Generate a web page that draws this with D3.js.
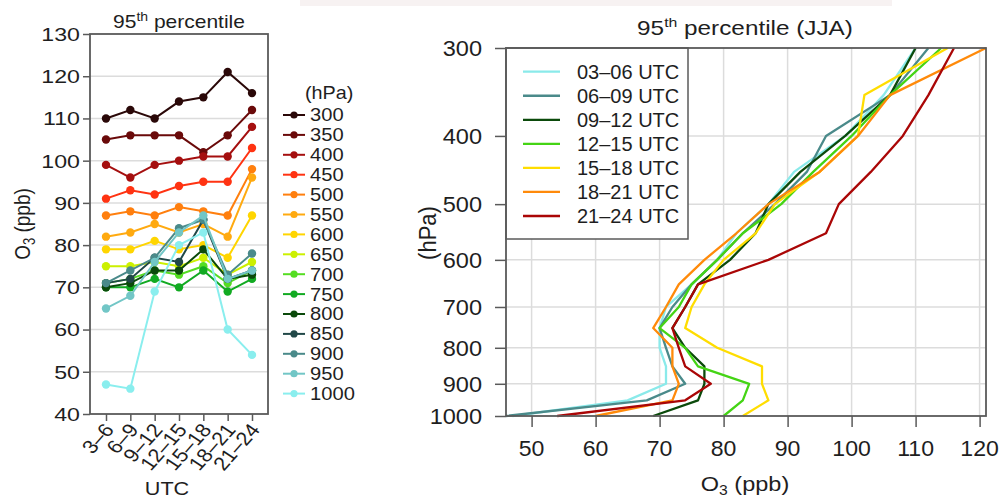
<!DOCTYPE html>
<html><head><meta charset="utf-8">
<script src="https://cdnjs.cloudflare.com/ajax/libs/d3/7.8.5/d3.min.js"></script>
<style>
body{margin:0;background:#fff;}
svg{display:block;}
text{font-family:"Liberation Sans",Arial,Helvetica,sans-serif;fill:#1e1e1e;}
</style>
</head><body>
<svg id="c" width="1003" height="498"></svg>
<script>
// ---------- data ----------
const utcLabels = ["3–6","6–9","9–12","12–15","15–18","18–21","21–24"];
const utcLegend = ["03–06 UTC","06–09 UTC","09–12 UTC","12–15 UTC","15–18 UTC","18–21 UTC","21–24 UTC"];
const levels = [300,350,400,450,500,550,600,650,700,750,800,850,900,950,1000];

const o3_300  = [110,112,110,114,115,121,116];
const o3_350  = [105,106,106,106,102,106,112];
const o3_400  = [99,96,99,100,101,101,108];
const o3_450  = [91,93,92,94,95,95,103];
const o3_500  = [87,88,87,89,88,87,98];
const o3_550  = [82,83,85,83,85,82,96];
const o3_600  = [79,79,81,79,80,77,87];
const o3_650  = [75,75,76,75,77,73,76];
const o3_700  = [71,72,74,73,75,71,74];
const o3_750  = [70,70,72,70,74,69,72];
const o3_800  = [70,71,74,74,79,72,73];
const o3_850  = [71,72,77,76,86,72,74];
const o3_900  = [71,74,77,84,86,73,78];
const o3_950  = [65,68,76,83,87,72,74];
const o3_1000 = [47,46,69,80,83,60,54];

const leftYTicks = [40,50,60,70,80,90,100,110,120,130];
const rightXTicks = [50,60,70,80,90,100,110,120];
const rightYTicks = [300,400,500,600,700,800,900,1000];

const levelColors = ["#2a0808","#6a0a0a","#a50f0f","#ff3312","#ff7f0e","#ffaa10","#ffd500","#ccf000",
                     "#55dd22","#12aa22","#0b4a0b","#214848","#4a8a8a","#72c6c6","#8aeeee"];
const utcColors = ["#8aeaea","#4a8a8a","#0b4a0b","#44d414","#ffdd00","#ff8a0a","#aa0606"];

const series = [o3_300,o3_350,o3_400,o3_450,o3_500,o3_550,o3_600,o3_650,o3_700,o3_750,o3_800,o3_850,o3_900,o3_950,o3_1000];

// ---------- helpers ----------
const svg = d3.select("#c");
const boxCol = "#5a5a5a", gridCol = "#dcdcdc";

function label(g, x, y, parts, o) {
  o = o || {};
  const t = g.append("text")
    .attr("transform", `translate(${x},${y}) scale(${o.sx||1},1) rotate(${o.rot||0})`)
    .attr("text-anchor", o.anchor || "start")
    .style("font-size", (o.size||18) + "px");
  if (o.dy) t.attr("dy", o.dy);
  if (typeof parts === "string") t.text(parts);
  else parts.forEach(p => {
    const s = t.append("tspan").text(p.t);
    if (p.size) s.style("font-size", p.size + "px");
    if (p.dy) s.attr("dy", p.dy);
  });
  if (o.width) {
    const w = t.node().getBBox().width;
    t.attr("transform", `translate(${x},${y}) scale(${o.width / w},1) rotate(${o.rot||0})`);
  }
  return t;
}

svg.append("rect").attr("x",300).attr("y",0).attr("width",592).attr("height",6).attr("fill","#f7f2f2");

// ================= LEFT PANEL =================
const L = svg.append("g");
const xL = d3.scalePoint().domain(utcLabels).range([106, 252]);
const yL = d3.scaleLinear().domain([40, 130]).range([414, 34]);
const sxL = 1.2;

L.selectAll("line.grid").data(leftYTicks.filter(d => d > 40 && d < 130)).join("line")
  .attr("x1", 90).attr("x2", 268).attr("y1", d => yL(d)).attr("y2", d => yL(d))
  .attr("stroke", gridCol).attr("stroke-width", 1.5);

const lineL = d3.line().x((d, i) => xL(utcLabels[i])).y(d => yL(d));
series.forEach((s, k) => {
  L.append("path").attr("d", lineL(s)).attr("fill", "none")
    .attr("stroke", levelColors[k]).attr("stroke-width", 2);
  L.selectAll(null).data(s).join("circle")
    .attr("cx", (d, i) => xL(utcLabels[i])).attr("cy", d => yL(d)).attr("r", 4.2)
    .attr("fill", levelColors[k]);
});

L.append("rect").attr("x", 90).attr("y", 34).attr("width", 178).attr("height", 380)
  .attr("fill", "none").attr("stroke", boxCol).attr("stroke-width", 1.8);

const axL = L.append("g").attr("transform", "translate(90,0)")
  .call(d3.axisLeft(yL).tickValues(leftYTicks).tickSize(7).tickFormat(""));
axL.select(".domain").remove();
axL.selectAll("line").attr("stroke", boxCol).attr("stroke-width", 1.5);
leftYTicks.forEach(v => label(L, 80, yL(v), String(v), {anchor: "end", sx: 1.22, size: 19, dy: "0.36em"}));

const axLb = L.append("g").attr("transform", "translate(0,414)")
  .call(d3.axisBottom(xL).tickSize(7).tickFormat(""));
axLb.select(".domain").remove();
axLb.selectAll("line").attr("stroke", boxCol).attr("stroke-width", 1.5);
utcLabels.forEach(u => label(L, xL(u) + 3, 426, u, {anchor: "end", sx: 1.15, size: 19, rot: -52, dy: "0.35em"}));

label(L, 167, 495, "UTC", {anchor: "middle", sx: sxL, size: 18});
label(L, 30, 224, [{t: "O"}, {t: "3", size: 13, dy: "4"}, {t: " (ppb)", size: 19, dy: "-4"}],
      {anchor: "middle", sx: sxL, size: 19, rot: -90});
label(L, 179, 28, [{t: "95"}, {t: "th", size: 12, dy: "-7"}, {t: " percentile", size: 18, dy: "7"}],
      {anchor: "middle", size: 18, width: 132});

// legend
label(L, 305, 99, "(hPa)", {sx: 1.1, size: 18});
levels.forEach((lv, k) => {
  const yy = 115 + k * 19.9;
  L.append("line").attr("x1", 283).attr("x2", 305).attr("y1", yy).attr("y2", yy)
    .attr("stroke", levelColors[k]).attr("stroke-width", 2);
  L.append("circle").attr("cx", 294).attr("cy", yy).attr("r", 3.6).attr("fill", levelColors[k]);
  label(L, 310, yy, String(lv), {sx: 1.12, size: 18, dy: "0.36em"});
});

// ================= RIGHT PANEL =================
const R = svg.append("g");
const xR = d3.scaleLinear().domain([46, 121]).range([506, 986]);
const yR = d3.scaleLog().domain([300, 1000]).range([48, 416]);

R.selectAll("line.gx").data(rightXTicks).join("line")
  .attr("x1", d => xR(d)).attr("x2", d => xR(d)).attr("y1", 48).attr("y2", 416)
  .attr("stroke", gridCol).attr("stroke-width", 1.5);
R.selectAll("line.gy").data(rightYTicks.filter(d => d > 300 && d < 1000)).join("line")
  .attr("x1", 506).attr("x2", 986).attr("y1", d => yR(d)).attr("y2", d => yR(d))
  .attr("stroke", gridCol).attr("stroke-width", 1.5);

utcLabels.forEach((u, j) => {
  const prof = levels.map((lv, k) => ({p: lv, v: series[k][j]}));
  R.append("path").attr("d", d3.line().x(d => xR(d.v)).y(d => yR(d.p))(prof))
    .attr("fill", "none").attr("stroke", utcColors[j]).attr("stroke-width", 2.3)
    .attr("stroke-linejoin", "round");
});

// legend box
R.append("rect").attr("x", 506).attr("y", 48).attr("width", 182).attr("height", 191)
  .attr("fill", "#fff").attr("stroke", boxCol).attr("stroke-width", 1.5);
utcLegend.forEach((u, j) => {
  const yy = 71.7 + j * 24.05;
  R.append("line").attr("x1", 523).attr("x2", 560).attr("y1", yy).attr("y2", yy)
    .attr("stroke", utcColors[j]).attr("stroke-width", 2.3);
  label(R, 577, yy, u, {size: 20, dy: "0.36em"});
});

R.append("rect").attr("x", 506).attr("y", 48).attr("width", 480).attr("height", 368)
  .attr("fill", "none").attr("stroke", boxCol).attr("stroke-width", 1.8);

const axRy = R.append("g").attr("transform", "translate(506,0)")
  .call(d3.axisLeft(yR).tickValues(rightYTicks).tickSize(11).tickFormat(""));
axRy.select(".domain").remove();
axRy.selectAll("line").attr("stroke", boxCol).attr("stroke-width", 1.5);
rightYTicks.forEach(v => label(R, 482, yR(v), String(v), {anchor: "end", sx: 1.07, size: 22, dy: "0.36em"}));

const axRx = R.append("g").attr("transform", "translate(0,416)")
  .call(d3.axisBottom(xR).tickValues(rightXTicks).tickSize(11).tickFormat(""));
axRx.select(".domain").remove();
axRx.selectAll("line").attr("stroke", boxCol).attr("stroke-width", 1.5);
rightXTicks.forEach(v => label(R, xR(v), 456, String(v), {anchor: "middle", sx: 1.05, size: 22}));

label(R, 745, 491, [{t: "O"}, {t: "3", size: 14, dy: "4"}, {t: " (ppb)", size: 21, dy: "-4"}],
      {anchor: "middle", sx: 1.12, size: 21});
label(R, 436, 233, "(hPa)", {anchor: "middle", sx: 1.12, size: 22, rot: -90});
label(R, 745, 35, [{t: "95"}, {t: "th", size: 13, dy: "-8"}, {t: " percentile (JJA)", size: 20, dy: "8"}],
      {anchor: "middle", size: 20, width: 216});
</script>
</body></html>
